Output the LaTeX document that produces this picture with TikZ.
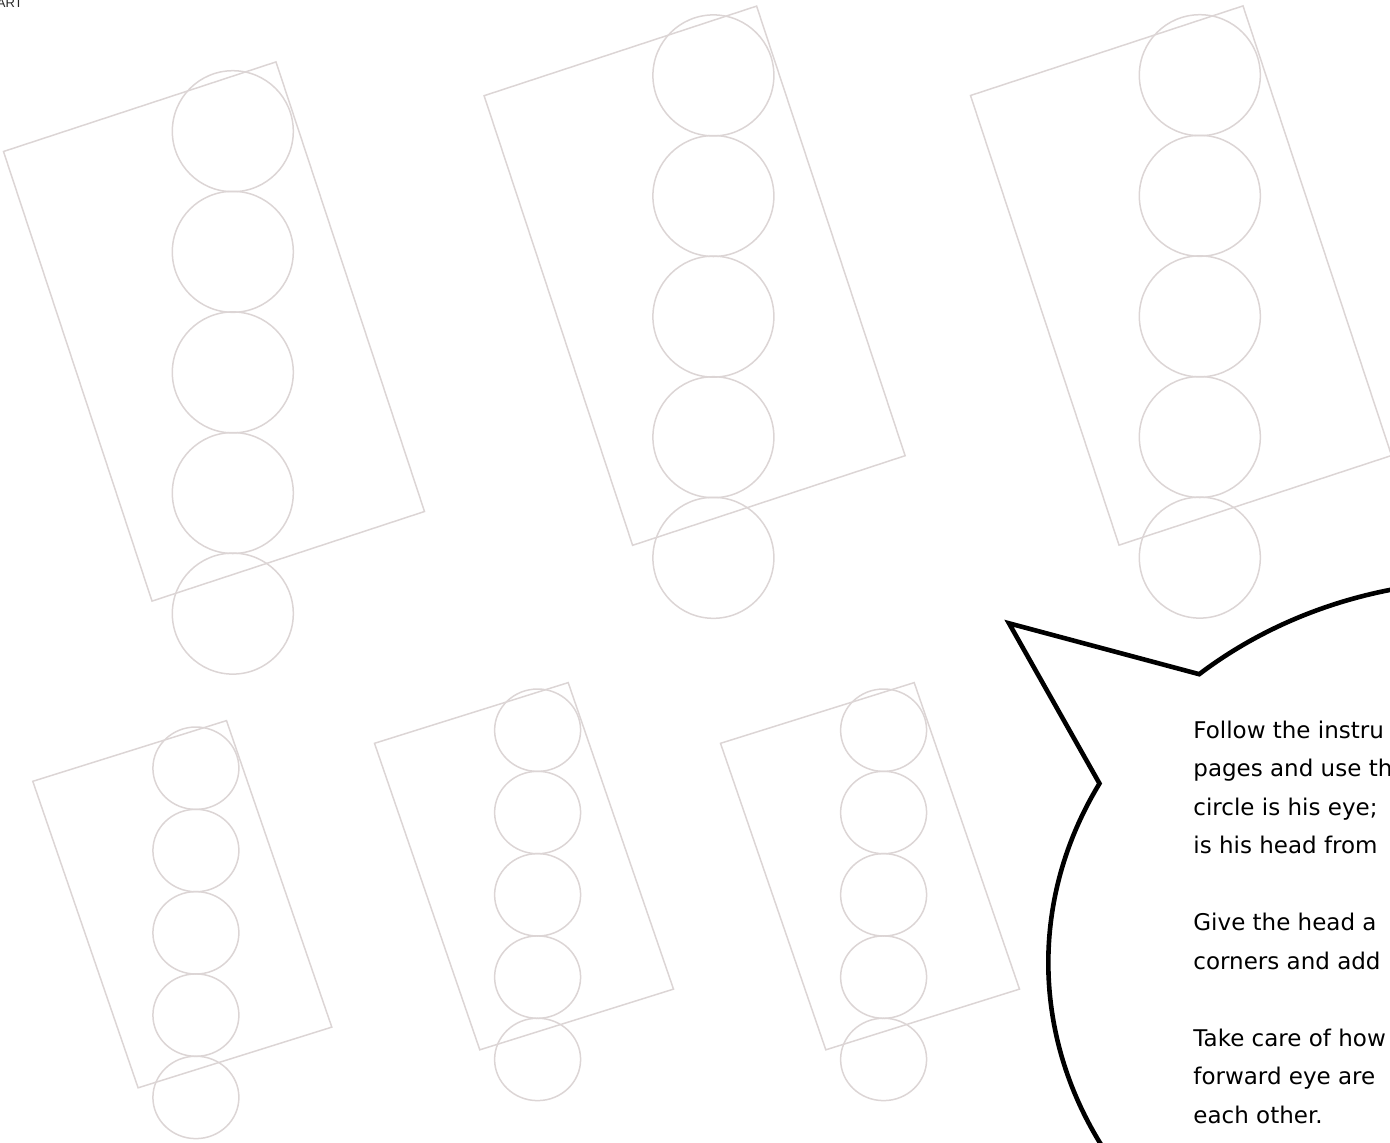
\documentclass[tikz,border=0pt]{standalone}
\usepackage{fontspec}
\setmainfont{DejaVu Sans}
\newfontfamily\cornerfont{Liberation Sans}
\usepackage{xcolor}
\definecolor{guidegray}{RGB}{220,213,213}
\usetikzlibrary{calc}

\begin{document}
\begin{tikzpicture}[x=0.5pt, y=-0.5pt,
		guide/.style={draw=guidegray, line width=0.75pt},
		bubble/.style={draw=black, line width=2.3pt, fill=white},
		note/.style={anchor=base west, inner sep=0pt, font=\fontsize{11.5}{13.8}\selectfont}]
			% page is 1390 x 1142 px, 1 px -> 0.5pt, y grows downwards
			\useasboundingbox (0,0) rectangle (1390,1142);
			\clip (0,0) rectangle (1390,1142);
			\node[anchor=base east, inner sep=0pt, text=black!85,
			font=\cornerfont\fontsize{6.5}{7}\selectfont] (corner) at (23,7.5) {ART};
			% ---------- large templates (top row) ----------
			\foreach \cx/\cy in {214/331.5, 694.6/275.7, 1181/275.5}
			{
				\begin{scope}[shift={(\cx,\cy)}]
					\draw[guide] (-210.5,-180) -- (62,-269.6) -- (210.5,180) -- (-62,269.6) -- cycle;
					\foreach \k in {0,...,4}
					\draw[guide] (18.8,-200.3+120.6*\k) circle (60.5);
				\end{scope}
			}
			% ---------- small templates (bottom row) ----------
			\foreach \cx/\cy in {182.3/904.2, 524/866.2, 870/866.2}
			{
				\begin{scope}[shift={(\cx,\cy)}]
					\draw[guide] (-149.5,-122.9) -- (44.2,-183.6) -- (149.5,122.9) -- (-44.2,183.6) -- cycle;
					\foreach \k in {0,...,4}
					\draw[guide] (13.6,-136+82.3*\k) circle [x radius=43, y radius=41.2];
				\end{scope}
			}
			% ---------- speech bubble ----------
			\coordinate (ctr) at (1486.1,962.75);
			\coordinate (tip) at (1009,623.3);
			\draw[bubble] (ctr) ++(229.05:437.8 and 382.1) coordinate (join)
			arc[start angle=229.05, end angle=567.98, x radius=437.8, y radius=382.1]
			-- (tip) -- (join) -- cycle;
			% text lines, cut by the page edge
			\foreach \y/\txt [count=\i] in {738/{Follow the instru}, 776.5/{pages and use th},
				815/{circle is his eye;}, 853.5/{is his head from}, 930.5/{Give the head a},
				969/{corners and add}, 1046/{Take care of how}, 1084.5/{forward eye are},
				1123/{each other.}}
			\node[note] (line\i) at (1193,\y) {\txt};
		\end{tikzpicture}
\end{document}
